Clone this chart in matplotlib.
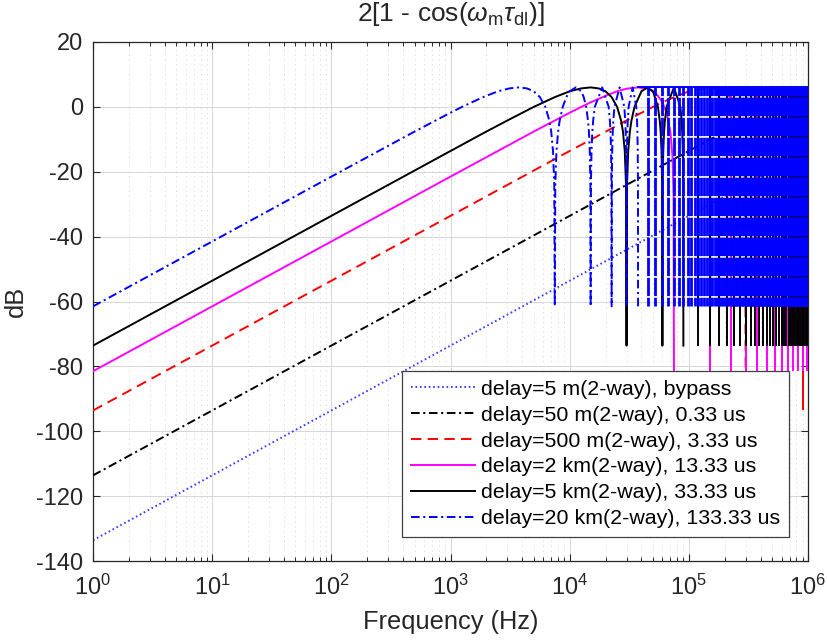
import numpy as np
import matplotlib
matplotlib.use("Agg")
import matplotlib.pyplot as plt
from matplotlib.collections import LineCollection
from matplotlib.ticker import FixedLocator, LogFormatterSciNotation, NullFormatter

plt.rcParams["font.family"] = ["Liberation Sans", "DejaVu Sans"]
plt.rcParams["mathtext.fontset"] = "custom"
plt.rcParams["mathtext.rm"] = "Liberation Sans"
plt.rcParams["mathtext.it"] = "Liberation Sans:italic"
plt.rcParams["lines.scale_dashes"] = False
plt.rcParams["axes.unicode_minus"] = False

# ── data (Hz, dB) ─────────────────────────────────────────────────────────────
LABELS = [
    "delay=5 m(2-way), bypass",
    "delay=50 m(2-way), 0.33 us",
    "delay=500 m(2-way), 3.33 us",
    "delay=2 km(2-way), 13.33 us",
    "delay=5 km(2-way), 33.33 us",
    "delay=20 km(2-way), 133.33 us",
]
XTICKS = [1, 10, 100, 1e3, 1e4, 1e5, 1e6]
YTICKS = [-140, -120, -100, -80, -60, -40, -20, 0, 20]

# 5 m bypass: straight line
bypass_f = [1, 1e6]
bypass_db = [-133.6, -13.6]

# 50 m
d50_f = [1, 1e4, 1e5, 3e5, 5e5, 7e5, 1e6]
d50_db = [-113.6, -33.6, -13.6, -4.2, 0.0, 2.5, 4.8]

# 500 m: rise, first hump, first notch
d500_f = [1, 1e3, 1e4, 3e4, 5e4, 7e4, 1e5, 1.5e5, 2e5, 2.3e5, 2.5e5, 2.7e5, 2.9e5, 2.97e5, 3e5]
d500_db = [-93.6, -33.6, -13.6, -4.2, 0.0, 2.5, 4.8, 6.0, 4.8, 2.5, 0.0, -4.2, -13.6, -24.0, -93.6]
d500_notch_khz = [600, 900]
d500_depth = -93.6

# 2 km
d2k_f = [1, 1e3, 5e3, 1e4, 1.5e4, 2e4, 2.5e4, 3e4, 3.75e4, 4.5e4, 5e4, 5.5e4, 6e4, 6.5e4,
         7e4, 7.3e4, 7.45e4, 7.5e4]
d2k_db = [-81.5, -21.5, -7.6, -1.8, 1.4, 3.4, 4.8, 5.6, 6.0, 5.6, 4.8, 3.4, 1.4, -1.8,
          -7.6, -15.5, -27.6, -81.5]
d2k_notch_khz = [150, 225, 300, 375, 450, 525, 600, 675, 750, 825, 900, 975]
d2k_depth = -81.5

# 5 km
d5k_f = [1, 1e3, 2e3, 3e3, 5e3, 7.5e3, 1e4, 1.25e4, 1.5e4, 1.75e4, 2e4, 2.25e4, 2.5e4, 2.7e4,
         2.8e4, 2.9e4, 2.97e4, 3e4,
         3.03e4, 3.1e4, 3.2e4, 3.3e4, 3.5e4, 4e4, 4.5e4, 5e4, 5.5e4, 5.7e4, 5.8e4, 5.9e4, 5.97e4, 6e4,
         6.03e4, 6.1e4, 6.2e4, 6.3e4, 6.5e4, 7.5e4, 8.5e4, 8.7e4, 8.8e4, 8.9e4, 8.97e4, 9e4]
d5k_db = [-73.6, -13.6, -7.6, -4.2, 0.0, 3.0, 4.8, 5.7, 6.0, 5.7, 4.8, 3.0, 0.0, -4.2,
          -7.6, -13.6, -24.0, -73.6,
          -24.0, -13.6, -7.6, -4.2, 0.0, 4.8, 6.0, 4.8, 0.0, -4.2, -7.6, -13.6, -24.0, -73.6,
          -24.0, -13.6, -7.6, -4.2, 0.0, 6.0, 0.0, -4.2, -7.6, -13.6, -24.0, -73.6]
d5k_notch_khz = [120, 150, 180, 210, 240, 270, 300, 330, 360, 390, 420, 450, 480, 510, 540,
                 570, 600, 630, 660, 690, 720, 750, 780, 810, 840, 870, 900, 930, 960, 990]
d5k_depth = -73.6

# 20 km
d20k_f = [1, 100, 500, 750, 1000, 1250, 1875, 2500, 3125, 3750, 4375, 5000, 5625, 6250,
          6750, 7000, 7250, 7425, 7500,
          7575, 7750, 8000, 8250, 8750, 9375, 1e4, 11250, 12500, 13125, 13750, 14250, 14500,
          14750, 14925, 15000,
          15075, 15250, 15500, 15750, 16250, 18750, 21250, 21750, 22000, 22250, 22425, 22500,
          22575, 22750, 23000, 23250, 23750, 26250, 28750, 29250, 29500, 29750, 29925, 30000,
          30075, 30250, 30500, 30750, 31250, 33750, 36250, 36750, 37000, 37250, 37425, 37500]
d20k_db = [-61.5, -21.5, -7.6, -4.2, -1.8, 0.0, 3.0, 4.8, 5.7, 6.0, 5.7, 4.8, 3.0, 0.0,
           -4.2, -7.6, -13.6, -24.0, -61.5,
           -24.0, -13.6, -7.6, -4.2, 0.0, 3.0, 4.8, 6.0, 4.8, 3.0, 0.0, -4.2, -7.6,
           -13.6, -24.0, -61.5,
           -24.0, -13.6, -7.6, -4.2, 0.0, 6.0, 0.0, -4.2, -7.6, -13.6, -24.0, -61.5,
           -24.0, -13.6, -7.6, -4.2, 0.0, 6.0, 0.0, -4.2, -7.6, -13.6, -24.0, -61.5,
           -24.0, -13.6, -7.6, -4.2, 0.0, 6.0, 0.0, -4.2, -7.6, -13.6, -24.0, -61.5]
d20k_notch_khz = [
    45, 52.5, 60, 67.5, 75, 82.5, 90, 97.5, 105, 112.5, 120, 127.5, 135, 142.5, 150, 157.5,
    165, 172.5, 180, 187.5, 195, 202.5, 210, 217.5, 225, 232.5, 240, 247.5, 255, 262.5, 270,
    277.5, 285, 292.5, 300, 307.5, 315, 322.5, 330, 337.5, 345, 352.5, 360, 367.5, 375, 382.5,
    390, 397.5, 405, 412.5, 420, 427.5, 435, 442.5, 450, 457.5, 465, 472.5, 480, 487.5, 495,
    502.5, 510, 517.5, 525, 532.5, 540, 547.5, 555, 562.5, 570, 577.5, 585, 592.5, 600, 607.5,
    615, 622.5, 630, 637.5, 645, 652.5, 660, 667.5, 675, 682.5, 690, 697.5, 705, 712.5, 720,
    727.5, 735, 742.5, 750, 757.5, 765, 772.5, 780, 787.5, 795, 802.5, 810, 817.5, 825, 832.5,
    840, 847.5, 855, 862.5, 870, 877.5, 885, 892.5, 900, 907.5, 915, 922.5, 930, 937.5, 945,
    952.5, 960, 967.5, 975, 982.5, 990, 997.5]
d20k_depth = -61.5

PEAK_DB = 6.0        # top of every hump

# ── styles (points) ───────────────────────────────────────────────────────────
DASHDOT = (0, (6.2, 2.6, 1.5, 2.6))
DASHED = (0, (7.5, 4.5))
DOTTED = (0, (1.2, 2.0))
LW = 1.4
TXT = "#262626"

fig = plt.figure(figsize=(8.27, 6.41), dpi=100)
ax = fig.add_axes([93 / 827, 1 - 561 / 641, 715 / 827, 519 / 641])


def dense_part(notch_khz, depth, color, zorder, ls="-", lw=LW, top_from=None):
    # notches that are too close together to resolve: drawn as drops from the hump tops
    f = np.asarray(notch_khz) * 1e3
    segs = [[(x, PEAK_DB), (x, depth)] for x in f]
    lc = LineCollection(segs, colors=color, linewidths=lw, linestyles=[ls], zorder=zorder,
                        capstyle="butt")
    ax.add_collection(lc)
    ax.plot([top_from, 1e6], [PEAK_DB, PEAK_DB], color=color, lw=LW, zorder=zorder)


h = []
h += ax.plot(bypass_f, bypass_db, color="#3c3cff", lw=LW, linestyle=DOTTED, zorder=2)
h += ax.plot(d50_f, d50_db, color="black", lw=LW, linestyle=DASHDOT, zorder=3)
h += ax.plot(d500_f, d500_db, color="red", lw=LW, linestyle=DASHED, zorder=4)
dense_part(d500_notch_khz, d500_depth, "red", 4, top_from=d500_f[-1])
h += ax.plot(d2k_f, d2k_db, color="magenta", lw=LW, zorder=5)
dense_part(d2k_notch_khz, d2k_depth, "magenta", 5, top_from=d2k_f[-1])
h += ax.plot(d5k_f, d5k_db, color="black", lw=LW, zorder=6)
dense_part(d5k_notch_khz, d5k_depth, "black", 6, top_from=d5k_f[-1])
h += ax.plot(d20k_f, d20k_db, color="blue", lw=LW, linestyle=DASHDOT, zorder=7)
dense_part(d20k_notch_khz, d20k_depth, "blue", 7, ls=(7.0, (13.2, 1.2)), lw=2.0,
           top_from=d20k_f[-1])

# ── axes ──────────────────────────────────────────────────────────────────────
ax.set_xscale("log")
ax.set_xlim(1, 1e6)
ax.set_ylim(-140, 20)
ax.yaxis.set_major_locator(FixedLocator(YTICKS))
ax.xaxis.set_major_locator(FixedLocator(XTICKS))
ax.xaxis.set_major_formatter(LogFormatterSciNotation())
ax.xaxis.set_minor_locator(FixedLocator(
    [m * d for d in XTICKS[:-1] for m in range(2, 10)]))
ax.xaxis.set_minor_formatter(NullFormatter())

ax.grid(True, which="major", color="#d6d6d6", lw=0.7, linestyle="-", zorder=0)
ax.grid(True, which="minor", axis="x", color="#dadada", lw=0.6, linestyle=(0, (1, 2.5)))
ax.set_axisbelow(True)

ax.tick_params(which="both", direction="in", top=True, right=True, colors=TXT,
               labelsize=17, labelcolor=TXT)
ax.tick_params(which="major", length=5, width=0.8)
ax.tick_params(which="minor", length=3, width=0.7)
ax.tick_params(axis="x", which="major", pad=10)
ax.tick_params(axis="y", which="major", pad=7)
for s in ax.spines.values():
    s.set_color(TXT)
    s.set_linewidth(0.9)

ax.set_xlabel("Frequency (Hz)", fontsize=18.3, color=TXT, labelpad=7)
ax.set_ylabel("dB", fontsize=18.3, color=TXT)
ax.yaxis.set_label_coords(-0.091, 0.5)
ax.set_title(r"2[1 - cos($\omega_{\mathrm{m}}\tau_{\mathrm{dl}}$)]", fontsize=19, color=TXT, pad=15)

leg = ax.legend(h, LABELS, loc="lower right", bbox_to_anchor=(0.9734, 0.0462), fontsize=15.4,
                frameon=True, fancybox=False, framealpha=1, edgecolor="#404040",
                handlelength=3.0, handletextpad=0.28, labelspacing=0.32, borderpad=0.42,
                borderaxespad=0)
leg.get_frame().set_linewidth(0.9)
leg.set_zorder(20)

fig.savefig("out.png", dpi=100)
